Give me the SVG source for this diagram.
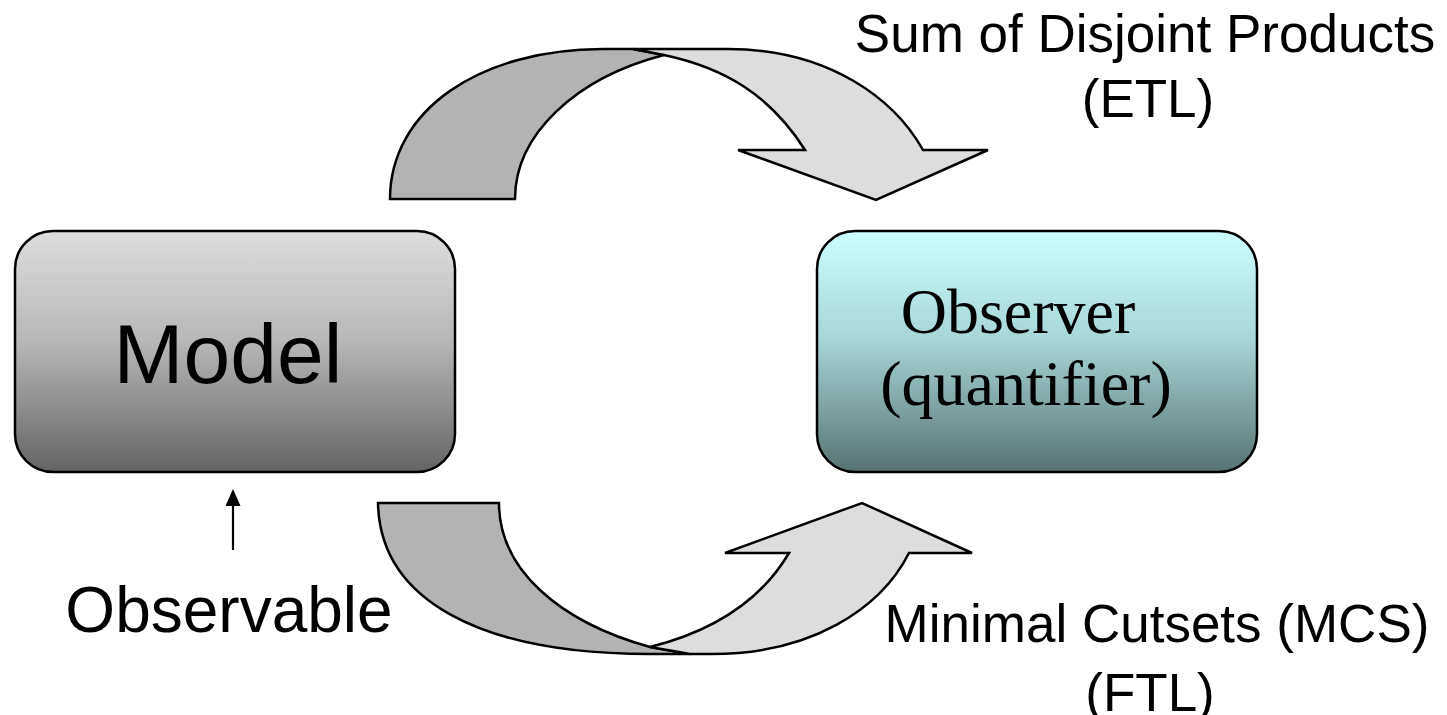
<svg xmlns="http://www.w3.org/2000/svg" width="1447" height="715" viewBox="0 0 1447 715">
<defs>
<linearGradient id="gModel" x1="0" y1="0" x2="0" y2="1">
<stop offset="0" stop-color="#dddddd"/>
<stop offset="0.45" stop-color="#b8b8b8"/>
<stop offset="1" stop-color="#646464"/>
</linearGradient>
<linearGradient id="gObs" x1="0" y1="0" x2="0" y2="1">
<stop offset="0" stop-color="#ccffff"/>
<stop offset="0.45" stop-color="#a6d6d6"/>
<stop offset="1" stop-color="#587272"/>
</linearGradient>
</defs>
<style>
.box{stroke:#000;stroke-width:2.5}
.dark{fill:#b3b3b3;stroke:#000;stroke-width:2.5;stroke-linejoin:miter}
.light{fill:#dddddd;stroke:#000;stroke-width:2.5;stroke-linejoin:miter}
.sans{font-family:"Liberation Sans",Arial,sans-serif;fill:#000}
.serif{font-family:"Liberation Serif","Times New Roman",serif;fill:#000}
</style>
<rect width="1447" height="715" fill="#fff"/>
<g id="connectors">
<g id="top-arrow">
<path class="dark" d="M390,199 C390,110 480,49 603,49 L633,49 L664,55 C575,78 515,135 515,199 Z"/>
<path class="light" d="M633,49 L728,49 C830,49 895,100 923,150 L988,150 L876,200 L738,150 L805,150 C770,95 725,68 664,55 Z"/>
</g>
<g id="bottom-arrow">
<path class="dark" d="M378,503 C380,600 480,654 650,654 L690,654 L650,647 C560,622 499,570 499,503 Z"/>
<path class="light" d="M650,647 L690,654 L712,654 C810,654 880,610 909,553 L972,553 L862,503 L725,553 L789,553 C760,602 710,632 650,647 Z"/>
</g>
<g id="observable-arrow">
<line x1="233" y1="550" x2="233" y2="503" stroke="#000" stroke-width="2.2"/>
<path d="M233,489 L240.5,506 L225.5,506 Z" fill="#000"/>
</g>
</g>
<g id="model">
<rect class="box" x="15" y="231" width="440" height="241" rx="38" ry="38" fill="url(#gModel)"/>
<text class="sans" x="228" y="383" font-size="84" text-anchor="middle">Model</text>
</g>
<g id="observer">
<rect class="box" x="817" y="231" width="440" height="241" rx="38" ry="38" fill="url(#gObs)"/>
<text class="serif" x="1018" y="333" font-size="64" text-anchor="middle">Observer</text>
<text class="serif" x="1026" y="405" font-size="64" text-anchor="middle">(quantifier)</text>
</g>
<g id="label-sdp">
<text class="sans" x="1145" y="52" font-size="53" text-anchor="middle">Sum of Disjoint Products</text>
<text class="sans" x="1148" y="117" font-size="53" text-anchor="middle">(ETL)</text>
</g>
<g id="label-mcs">
<text class="sans" x="1157" y="642" font-size="53" text-anchor="middle">Minimal Cutsets (MCS)</text>
<text class="sans" x="1150" y="711" font-size="53" text-anchor="middle">(FTL)</text>
</g>
<g id="observable">
<text class="sans" x="229" y="632" font-size="64" text-anchor="middle">Observable</text>
</g>
</svg>
